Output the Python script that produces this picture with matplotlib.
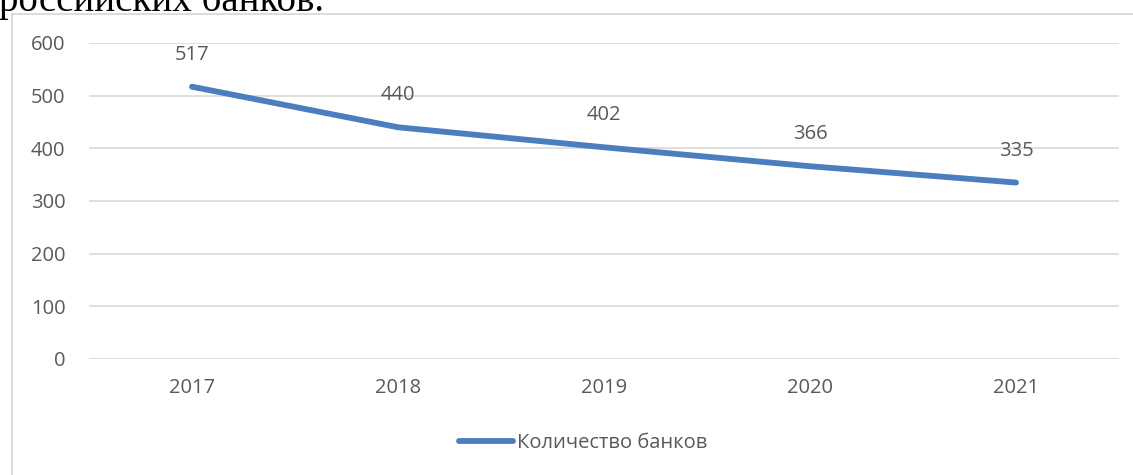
import matplotlib.pyplot as plt
from matplotlib.patches import Rectangle

years = ["2017", "2018", "2019", "2020", "2021"]
banks = [517, 440, 402, 366, 335]
y_ticks = [0, 100, 200, 300, 400, 500, 600]
series_label = "Количество банков"

W, H = 1133, 475
TEXT = "#595959"
GRID = "#D9D9D9"
BLUE = "#4A7EBF"
FS = 14.5

plt.rcParams["font.family"] = ["Open Sans", "DejaVu Sans"]

fig = plt.figure(figsize=(W / 100, H / 100), dpi=100)
fig.patch.set_facecolor("white")

# chart frame (cut by the page edge on right/bottom)
fig.add_artist(Rectangle((12 / W, -0.1), 1.2, (H - 14) / H + 0.1,
                         transform=fig.transFigure, facecolor="none",
                         edgecolor=GRID, linewidth=1.3))

# clipped caption line from the document above the chart
fig.text(-1 / W, 1 - 11 / H, "российских банков.", fontsize=28,
         family=["Liberation Serif", "DejaVu Serif"], color="black",
         ha="left", va="baseline")

ax = fig.add_axes([89 / W, 1 - 359 / H, 1030 / W, (359 - 43) / H])
x = range(len(years))
ax.plot(x, banks, color=BLUE, linewidth=4.2, solid_capstyle="round",
        label=series_label)
for xi, v in zip(x, banks):
    ax.annotate(str(v), (xi, v), xytext=(0, 23), textcoords="offset points",
                ha="center", va="center", fontsize=FS, color=TEXT)

ax.set_xlim(-0.5, len(years) - 0.5)
ax.set_ylim(0, 600)
ax.set_yticks(y_ticks)
ax.set_xticks(list(x))
ax.set_xticklabels(years)
ax.tick_params(length=0, labelsize=FS, labelcolor=TEXT)
ax.tick_params(axis="y", pad=17)
ax.tick_params(axis="x", pad=14)
ax.grid(axis="y", color=GRID, linewidth=1.2)
ax.set_axisbelow(True)
for s in ax.spines.values():
    s.set_visible(False)

fig.legend(loc="center", bbox_to_anchor=(583 / W, 1 - 443 / H), frameon=False,
           fontsize=FS, labelcolor=TEXT, handlelength=2.7, handletextpad=0.15)

fig.savefig("out.png", dpi=100)
